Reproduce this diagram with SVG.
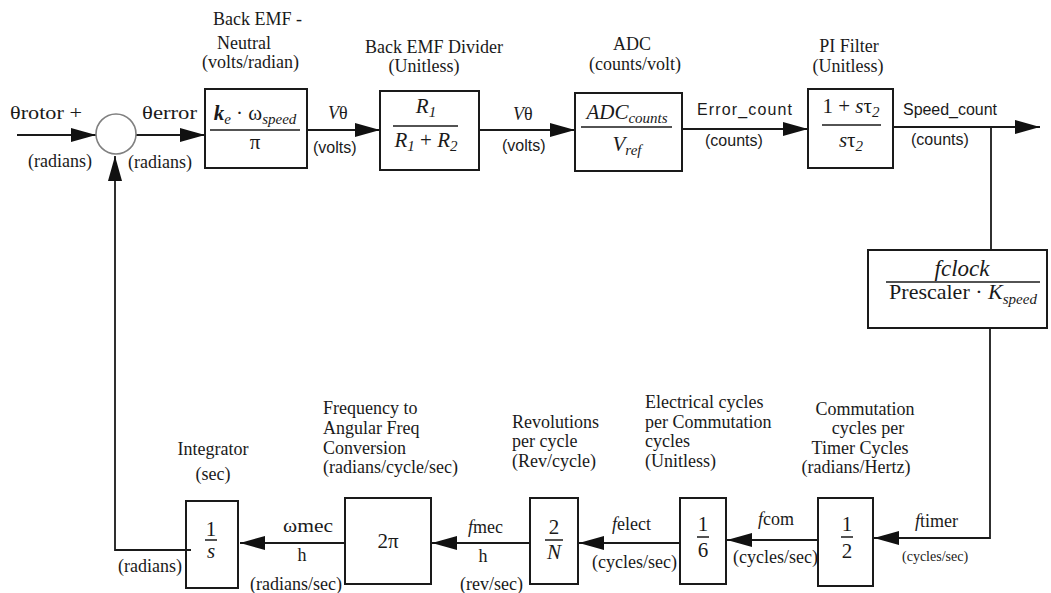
<svg xmlns="http://www.w3.org/2000/svg" width="1051" height="593" viewBox="0 0 1051 593">
<style>
.t{font-family:"Liberation Serif","Times New Roman",serif;font-size:18px;fill:#1a1a1a}
.s{font-family:"Liberation Sans",Arial,sans-serif;font-size:16px;fill:#1a1a1a}
.m{font-family:"Liberation Serif","Times New Roman",serif;font-size:21px;fill:#1a1a1a}
.i{font-style:italic}
.sub{font-size:15px;font-style:italic}
.box{fill:none;stroke:#1a1a1a;stroke-width:2}
.ln{fill:none;stroke:#1a1a1a;stroke-width:1.8}
.bar{stroke:#1a1a1a;stroke-width:1.5}
.c{text-anchor:middle}
</style>
<defs>
<marker id="ah" markerUnits="userSpaceOnUse" markerWidth="26" markerHeight="16" refX="25" refY="7" orient="auto">
<path d="M0,0 L25,7 L0,14 Z" fill="#111"/>
</marker>
</defs>

<g id="connectors">
<line class="ln" x1="17" y1="135" x2="96" y2="135" marker-end="url(#ah)"/>
<line class="ln" x1="136" y1="135" x2="205" y2="135" marker-end="url(#ah)"/>
<line class="ln" x1="307" y1="130" x2="380" y2="130" marker-end="url(#ah)"/>
<line class="ln" x1="479" y1="130" x2="575" y2="130" marker-end="url(#ah)"/>
<line class="ln" x1="682" y1="129" x2="808" y2="129" marker-end="url(#ah)"/>
<line class="ln" x1="893" y1="127" x2="1040" y2="127" marker-end="url(#ah)"/>
<line class="ln" x1="991" y1="127" x2="991" y2="250"/>
<polyline class="ln" points="990,328 990,538 874,538" marker-end="url(#ah)"/>
<line class="ln" x1="818" y1="540" x2="727" y2="540" marker-end="url(#ah)"/>
<line class="ln" x1="680" y1="543" x2="579" y2="543" marker-end="url(#ah)"/>
<line class="ln" x1="530" y1="543" x2="432" y2="543" marker-end="url(#ah)"/>
<line class="ln" x1="345" y1="543" x2="240" y2="543" marker-end="url(#ah)"/>
<polyline class="ln" points="191,550 115,550 115,156" marker-end="url(#ah)"/>
</g>

<g id="sum">
<circle cx="116" cy="134" r="20" fill="#fff" stroke="#808080" stroke-width="1.6"/>
</g>

<g id="signals">
<text class="t" x="10" y="119" textLength="72" lengthAdjust="spacingAndGlyphs">θrotor +</text>
<text class="t" x="28" y="167">(radians)</text>
<text class="t" x="142" y="119" textLength="55" lengthAdjust="spacingAndGlyphs">θerror</text>
<text class="t" x="128" y="168">(radians)</text>
<text class="t" x="328" y="119"><tspan class="i">V</tspan>θ</text>
<text class="s" x="313" y="153">(volts)</text>
<text class="t" x="513" y="120"><tspan class="i">V</tspan>θ</text>
<text class="s" x="502" y="151">(volts)</text>
<text class="s" x="697" y="115" textLength="95">Error_count</text>
<text class="s" x="705" y="146">(counts)</text>
<text class="s" x="903" y="115" textLength="94">Speed_count</text>
<text class="s" x="911" y="145">(counts)</text>
<text class="t" x="283" y="532" textLength="50" lengthAdjust="spacingAndGlyphs">ωmec</text>
<text class="t c" x="302" y="561">h</text>
<text class="t" x="250" y="590">(radians/sec)</text>
<text class="t" x="468" y="533"><tspan class="i">f</tspan>mec</text>
<text class="t c" x="483" y="562">h</text>
<text class="t" x="460" y="590">(rev/sec)</text>
<text class="t" x="612" y="530"><tspan class="i">f</tspan>elect</text>
<text class="t" x="592" y="568">(cycles/sec)</text>
<text class="t" x="758" y="525"><tspan class="i">f</tspan>com</text>
<text class="t" x="733" y="563">(cycles/sec)</text>
<text class="t" x="915" y="527"><tspan class="i">f</tspan>timer</text>
<text class="t" x="902" y="561" style="font-size:14px">(cycles/sec)</text>
<text class="t" x="118" y="572">(radians)</text>
</g>

<g id="backemf">
<text class="t" x="213" y="25">Back EMF -</text>
<text class="t" x="217" y="49">Neutral</text>
<text class="t" x="202" y="68">(volts/radian)</text>
<rect class="box" x="205" y="89" width="102" height="79"/>
<text class="m c" x="255" y="120"><tspan class="i" font-weight="bold">k</tspan><tspan class="sub" dy="4">e</tspan><tspan dy="-4"> · ω</tspan><tspan class="sub" dy="4">speed</tspan></text>
<line class="bar" x1="210" y1="130" x2="300" y2="130"/>
<text class="m c" x="255" y="149">π</text>
</g>

<g id="divider">
<text class="t c" x="434" y="53">Back EMF Divider</text>
<text class="t c" x="424" y="72">(Unitless)</text>
<rect class="box" x="380" y="91" width="99" height="79"/>
<text class="m c" x="426" y="113"><tspan class="i">R</tspan><tspan class="sub" font-style="normal" dy="4">1</tspan></text>
<line class="bar" x1="393" y1="126" x2="458" y2="126"/>
<text class="m c" x="426" y="147"><tspan class="i">R</tspan><tspan class="sub" font-style="normal" dy="4">1</tspan><tspan dy="-4"> + </tspan><tspan class="i">R</tspan><tspan class="sub" font-style="normal" dy="4">2</tspan></text>
</g>

<g id="adc">
<text class="t c" x="632" y="50">ADC</text>
<text class="t c" x="635" y="70">(counts/volt)</text>
<rect class="box" x="575" y="93" width="107" height="78"/>
<text class="m c" x="627" y="119"><tspan class="i">ADC</tspan><tspan class="sub" dy="4">counts</tspan></text>
<line class="bar" x1="581" y1="127" x2="672" y2="127"/>
<text class="m c" x="627" y="151"><tspan class="i">V</tspan><tspan class="sub" dy="4">ref</tspan></text>
</g>

<g id="pifilter">
<text class="t c" x="849" y="52">PI Filter</text>
<text class="t c" x="848" y="72">(Unitless)</text>
<rect class="box" x="808" y="89" width="85" height="79"/>
<text class="m c" x="851" y="113">1 + <tspan class="i">s</tspan>τ<tspan class="sub" font-style="normal" dy="4">2</tspan></text>
<line class="bar" x1="822" y1="125" x2="881" y2="125"/>
<text class="m c" x="851" y="147"><tspan class="i">s</tspan>τ<tspan class="sub" font-style="normal" dy="4">2</tspan></text>
</g>

<g id="prescaler">
<rect class="box" x="868" y="250" width="179" height="78"/>
<text class="m c" x="962" y="276" style="font-size:23px"><tspan class="i">fclock</tspan></text>
<line class="bar" x1="886" y1="282" x2="1040" y2="282"/>
<text class="m c" x="963" y="299" style="font-size:22px">Prescaler · <tspan class="i">K</tspan><tspan class="sub" dy="5">speed</tspan></text>
</g>

<g id="integrator">
<text class="t c" x="213" y="455">Integrator</text>
<text class="t c" x="213" y="480">(sec)</text>
<rect class="box" x="186" y="501" width="52" height="87"/>
<text class="m c" x="211" y="536">1</text>
<line class="bar" x1="205" y1="540" x2="217" y2="540"/>
<text class="m c i" x="211" y="558">s</text>
</g>

<g id="twopi">
<text class="t" x="323" y="414">Frequency to</text>
<text class="t" x="323" y="434">Angular Freq</text>
<text class="t" x="323" y="454">Conversion</text>
<text class="t" x="323" y="473">(radians/cycle/sec)</text>
<rect class="box" x="345" y="498" width="86" height="86"/>
<text class="m c" x="388" y="548">2π</text>
</g>

<g id="revpercycle">
<text class="t" x="512" y="428">Revolutions</text>
<text class="t" x="512" y="447">per cycle</text>
<text class="t" x="512" y="467">(Rev/cycle)</text>
<rect class="box" x="530" y="498" width="48" height="86"/>
<text class="m c" x="554" y="534">2</text>
<line class="bar" x1="545" y1="540" x2="563" y2="540"/>
<text class="m c i" x="554" y="559">N</text>
</g>

<g id="elecpercomm">
<text class="t" x="645" y="408">Electrical cycles</text>
<text class="t" x="645" y="428">per Commutation</text>
<text class="t" x="645" y="447">cycles</text>
<text class="t" x="645" y="467">(Unitless)</text>
<rect class="box" x="680" y="498" width="46" height="86"/>
<text class="m c" x="703" y="531">1</text>
<line class="bar" x1="697" y1="537" x2="709" y2="537"/>
<text class="m c" x="703" y="557">6</text>
</g>

<g id="commpertimer">
<text class="t c" x="865" y="415">Commutation</text>
<text class="t c" x="868" y="434">cycles per</text>
<text class="t c" x="860" y="454">Timer Cycles</text>
<text class="t c" x="856" y="473">(radians/Hertz)</text>
<rect class="box" x="818" y="498" width="55" height="88"/>
<text class="m c" x="847" y="531">1</text>
<line class="bar" x1="841" y1="537" x2="853" y2="537"/>
<text class="m c" x="847" y="558">2</text>
</g>
</svg>
